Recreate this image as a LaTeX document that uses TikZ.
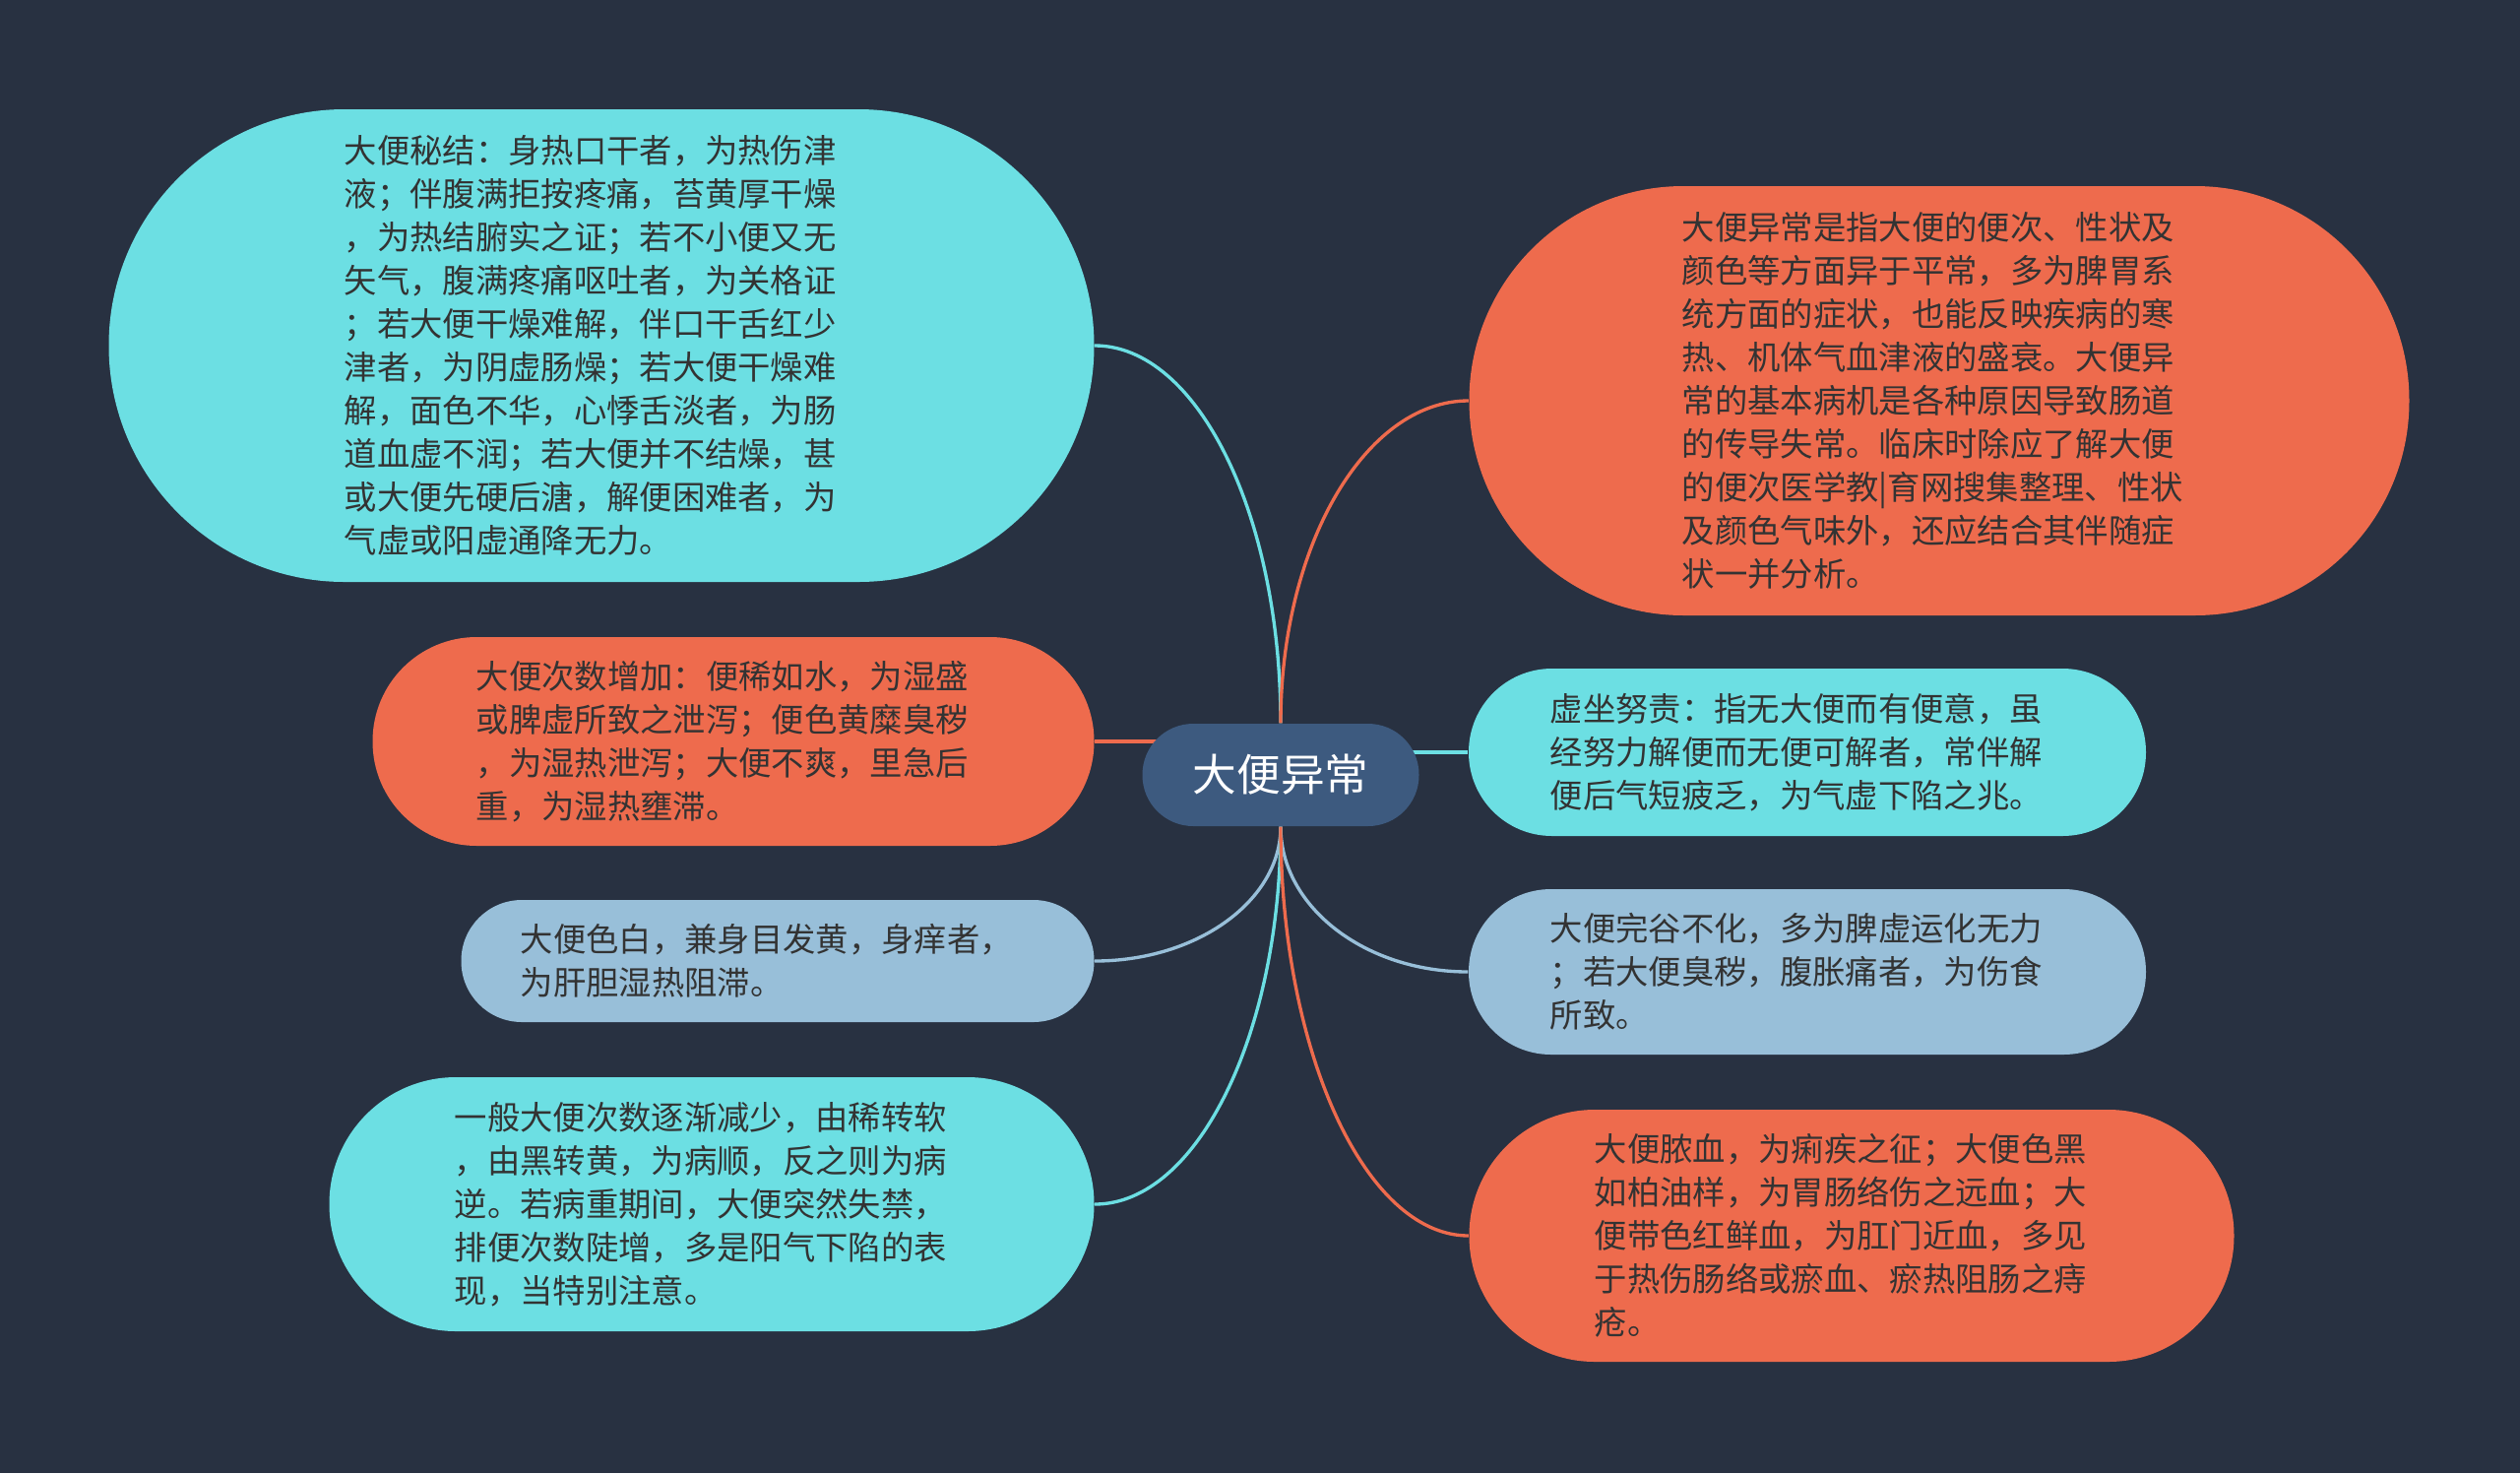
\documentclass[tikz,border=0pt]{standalone}
\usepackage{fontspec}
\setmainfont{Noto Sans CJK SC}
\usetikzlibrary{backgrounds}
\definecolor{bg}{HTML}{283141}
\definecolor{cyanc}{HTML}{6CDFE3}
\definecolor{orangec}{HTML}{EE6B4D}
\definecolor{bluec}{HTML}{98BFD9}
\definecolor{centerc}{HTML}{3D5A7F}
\definecolor{txt}{HTML}{333333}
\begin{document}
\begin{tikzpicture}[x=0.3pt,y=-0.3pt,
  topic/.style={shape=rectangle, text=txt, font=\fontsize{10pt}{13.2pt}\selectfont, align=left, text width=156.8pt, inner sep=0pt},
  root/.style={shape=rectangle, fill=centerc, text=white, font=\fontsize{13.4pt}{16pt}\selectfont, inner sep=0pt},
  link/.style={line width=1pt},
]
\useasboundingbox (0,0) rectangle (2560,1496);

\node[root, minimum width=84.3pt, minimum height=31.2pt, rounded corners=15.5pt] (C) at (1301,787) {大便异常};

\node[topic, fill=cyanc, minimum width=300.3pt, minimum height=144pt, rounded corners=71.9pt] (n1) at (611,351)
{大便秘结：身热口干者，为热伤津\\液；伴腹满拒按疼痛，苔黄厚干燥\\，为热结腑实之证；若不小便又无\\矢气，腹满疼痛呕吐者，为关格证\\；若大便干燥难解，伴口干舌红少\\津者，为阴虚肠燥；若大便干燥难\\解，面色不华，心悸舌淡者，为肠\\道血虚不润；若大便并不结燥，甚\\或大便先硬后溏，解便困难者，为\\气虚或阳虚通降无力。};

\node[topic, fill=orangec, minimum width=286.5pt, minimum height=130.8pt, rounded corners=65.3pt] (n2) at (1970,407)
{大便异常是指大便的便次、性状及\\颜色等方面异于平常，多为脾胃系\\统方面的症状，也能反映疾病的寒\\热、机体气血津液的盛衰。大便异\\常的基本病机是各种原因导致肠道\\的传导失常。临床时除应了解大便\\的便次医学教|育网搜集整理、性状\\及颜色气味外，还应结合其伴随症\\状一并分析。};

\node[topic, fill=orangec, minimum width=219.9pt, minimum height=63.6pt, rounded corners=31.7pt] (n3) at (745,753)
{大便次数增加：便稀如水，为湿盛\\或脾虚所致之泄泻；便色黄糜臭秽\\，为湿热泄泻；大便不爽，里急后\\重，为湿热壅滞。};

\node[topic, fill=cyanc, minimum width=206.4pt, minimum height=51pt, rounded corners=25.4pt] (n5) at (1836,764)
{虚坐努责：指无大便而有便意，虽\\经努力解便而无便可解者，常伴解\\便后气短疲乏，为气虚下陷之兆。};

\node[topic, fill=bluec, minimum width=192.9pt, minimum height=37.2pt, rounded corners=18.5pt] (n6) at (790,976)
{大便色白，兼身目发黄，身痒者，\\为肝胆湿热阻滞。};

\node[topic, fill=bluec, minimum width=206.4pt, minimum height=50.4pt, rounded corners=25.1pt] (n7) at (1836,987)
{大便完谷不化，多为脾虚运化无力\\；若大便臭秽，腹胀痛者，为伤食\\所致。};

\node[topic, fill=cyanc, minimum width=233.1pt, minimum height=77.4pt, rounded corners=38.6pt] (n8) at (723,1223)
{一般大便次数逐渐减少，由稀转软\\，由黑转黄，为病顺，反之则为病\\逆。若病重期间，大便突然失禁，\\排便次数陡增，多是阳气下陷的表\\现，当特别注意。};

\node[topic, fill=orangec, minimum width=233.1pt, minimum height=76.8pt, rounded corners=38.3pt] (n9) at (1881,1255)
{大便脓血，为痢疾之征；大便色黑\\如柏油样，为胃肠络伤之远血；大\\便带色红鲜血，为肛门近血，多见\\于热伤肠络或瘀血、瘀热阻肠之痔\\疮。};

\begin{scope}[on background layer]
\fill[bg] (0,0) rectangle (2560,1496);
\draw[link,cyanc] (C.north) .. controls +(0,-212) and +(104,0) .. (n1.east);
\draw[link,orangec] (C.north) .. controls +(0,-180) and +(-105,0) .. (n2.west);
\draw[link,orangec] (n3.east) -- (n3.east -| C.center);
\draw[link,cyanc] (C.center |- n5.west) -- (n5.west);
\draw[link,bluec] (C.south) .. controls +(0,75) and +(104,0) .. (n6.east);
\draw[link,bluec] (C.south) .. controls +(0,81) and +(-105,0) .. (n7.west);
\draw[link,cyanc] (C.south) .. controls +(0,210) and +(104,0) .. (n8.east);
\draw[link,orangec] (C.south) .. controls +(0,228) and +(-105,0) .. (n9.west);
\end{scope}
\end{tikzpicture}
\end{document}
